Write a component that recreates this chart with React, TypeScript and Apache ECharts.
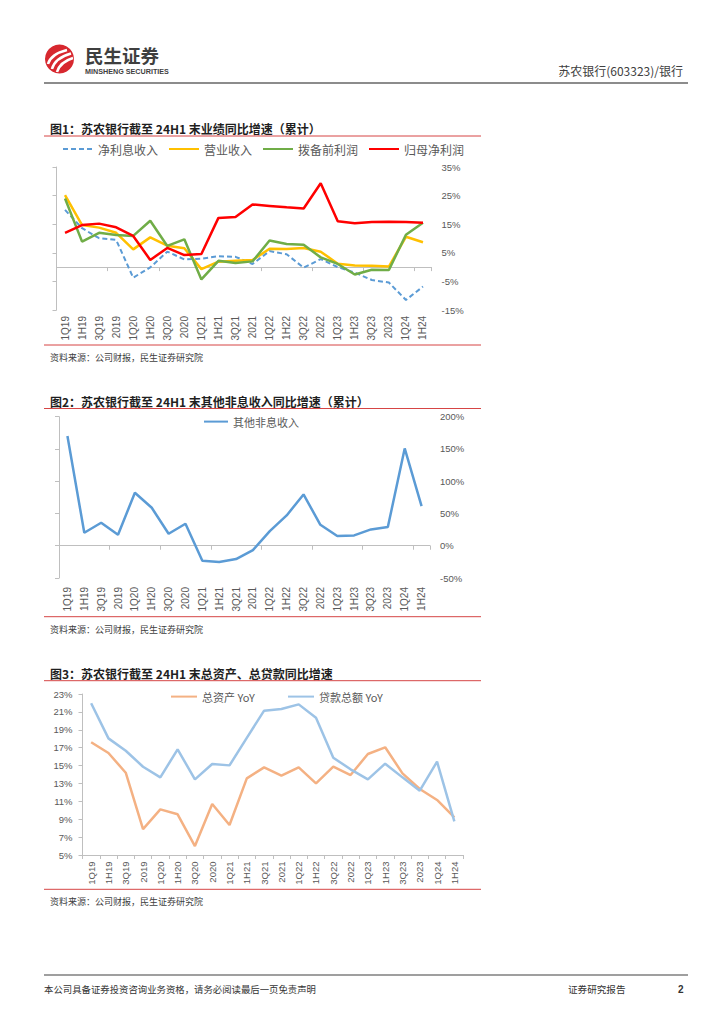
import React, { useEffect, useRef } from 'react';
import * as echarts from 'echarts';

// ---------- data ----------
const categories = ['1Q19', '1H19', '3Q19', '2019', '1Q20', '1H20', '3Q20', '2020', '1Q21', '1H21', '3Q21', '2021', '1Q22', '1H22', '3Q22', '2022', '1Q23', '1H23', '3Q23', '2023', '1Q24', '1H24'];

// Fig 1 (%, YoY cumulative)
const netInterestIncome = [20.0, 13.6, 10.1, 9.5, -3.7, -0.1, 5.4, 2.7, 2.9, 3.8, 3.6, 1.1, 5.6, 4.5, -0.2, 2.8, 0.0, -1.9, -4.5, -5.4, -11.5, -6.8];
const operatingRevenue = [25.2, 14.7, 13.8, 12.0, 6.2, 10.4, 7.5, 6.6, -0.7, 1.9, 2.2, 2.5, 6.4, 6.3, 6.7, 5.4, 1.2, 0.6, 0.5, 0.2, 10.6, 8.7];
const preProvisionProfit = [24.0, 8.9, 12.0, 11.2, 10.9, 16.2, 7.4, 9.7, -4.3, 2.2, 1.4, 2.0, 9.3, 8.1, 7.8, 3.4, 1.1, -2.6, -0.9, -1.0, 11.3, 15.5];
const netProfitAttr = [12.0, 14.7, 15.2, 13.9, 10.9, 2.5, 6.7, 4.2, 4.6, 17.2, 17.5, 21.9, 21.4, 20.9, 20.5, 29.3, 16.0, 15.3, 15.8, 15.9, 15.8, 15.5];

// Fig 2 (%)
const otherNonInterest = [170, 20.1, 35.6, 17.0, 82.1, 58.9, 18.6, 34.1, -23.2, -25.3, -20.7, -6.7, 22.7, 47.0, 79.5, 32.5, 15.0, 16.0, 25.3, 28.9, 150.8, 61.5];

// Fig 3 (%)
const totalAssetsYoY = [17.6, 16.4, 14.2, 7.9, 10.1, 9.55, 6.0, 10.7, 8.35, 13.57, 14.8, 13.87, 14.8, 13.0, 14.87, 13.94, 16.29, 17.04, 14.13, 12.38, 11.15, 9.21];
const totalLoansYoY = [21.96, 18.04, 16.66, 14.87, 13.68, 16.81, 13.46, 15.17, 15.02, 18.1, 21.14, 21.32, 21.84, 20.35, 15.88, 14.58, 13.46, 15.21, 13.68, 12.19, 15.43, 8.76];

// axis ranges (tick labels: min..max step interval, shown with %)
const fig1Axis = [-15, 35, 10];
const fig2Axis = [-50, 200, 50];
const fig3Axis = [5, 23, 2];

const seriesNames1 = ['净利息收入', '营业收入', '拨备前利润', '归母净利润'];
const seriesNames2 = ['其他非息收入'];
const seriesNames3 = ['总资产 YoY', '贷款总额 YoY'];

const titles = [
  '图1：苏农银行截至 24H1 末业绩同比增速（累计）',
  '图2：苏农银行截至 24H1 末其他非息收入同比增速（累计）',
  '图3：苏农银行截至 24H1 末总资产、总贷款同比增速',
];
const sourceText = '资料来源：公司财报，民生证券研究院';

// ---------- styles ----------
const CJK = '"Noto Sans CJK SC", "Noto Sans", sans-serif';
const NUM = '"Liberation Sans", Arial, sans-serif';
const AXIS_COLOR = '#bfbfbf';
const LABEL_COLOR = '#595959';
const RED_RULE = '#d64545';

// category axis carrying only the labels (always at the grid bottom)
function labelAxis(gridIndex: number, margin: number, fontSize: number, showLine: boolean) {
  return {
    type: 'category',
    gridIndex,
    position: 'bottom',
    data: categories,
    boundaryGap: true,
    axisLine: { show: showLine, onZero: false, lineStyle: { color: AXIS_COLOR, width: 1 } },
    axisTick: { show: showLine, length: 4, alignWithLabel: false, lineStyle: { color: AXIS_COLOR } },
    axisLabel: { interval: 0, rotate: 90, margin, fontSize, color: LABEL_COLOR, fontFamily: NUM },
    splitLine: { show: false },
  };
}

// category axis drawing only the zero line and its ticks
function zeroAxis(gridIndex: number) {
  return {
    type: 'category',
    gridIndex,
    position: 'top',
    data: categories,
    boundaryGap: true,
    axisLine: { show: true, onZero: true, lineStyle: { color: AXIS_COLOR, width: 1 } },
    axisTick: { show: true, inside: true, length: 4, alignWithLabel: false, lineStyle: { color: AXIS_COLOR } },
    axisLabel: { show: false },
    splitLine: { show: false },
  };
}

function valAxis(gridIndex: number, range: number[], position: string, showLabel: boolean, showLine: boolean) {
  return {
    type: 'value',
    gridIndex,
    position,
    min: range[0],
    max: range[1],
    interval: range[2],
    axisLine: { show: showLine, lineStyle: { color: AXIS_COLOR, width: 1 } },
    axisTick: { show: showLine, length: 4, lineStyle: { color: AXIS_COLOR } },
    axisLabel: {
      show: showLabel,
      margin: 10,
      fontSize: 9.5,
      color: LABEL_COLOR,
      fontFamily: NUM,
      formatter: '{value}%',
    },
    splitLine: { show: false },
  };
}

function lineSeries(name: string, data: number[], color: string, xi: number, yi: number, width = 2.5, dash?: any) {
  return {
    type: 'line',
    name,
    data,
    xAxisIndex: xi,
    yAxisIndex: yi,
    symbol: 'none',
    showSymbol: false,
    smooth: false,
    lineStyle: { color, width, type: dash || 'solid' },
    itemStyle: { color },
  };
}

function txt(text: string, x: number, y: number, size: number, opts: any = {}) {
  return {
    type: 'text',
    silent: true,
    style: {
      text,
      x,
      y,
      fontSize: size,
      fontFamily: opts.family || CJK,
      fontWeight: opts.weight || 'normal',
      fill: opts.fill || '#333',
      align: opts.align || 'left',
      verticalAlign: 'middle',
    },
  };
}

function hline(x1: number, x2: number, y: number, stroke: string, lineWidth: number) {
  return { type: 'line', silent: true, shape: { x1, y1: y, x2, y2: y }, style: { stroke, lineWidth } };
}

function legendBox(data: string[], left: number, top: number, itemWidth: number, fontSize: number, itemGap = 10) {
  return {
    data,
    left,
    top,
    orient: 'horizontal',
    itemWidth,
    itemHeight: 14,
    itemGap,
    selectedMode: false,
    padding: 0,
    itemStyle: { opacity: 0 },
    textStyle: { fontSize, color: LABEL_COLOR, fontFamily: CJK },
  };
}

export default function App() {
  const ref = useRef<HTMLDivElement>(null);

  useEffect(() => {
    if (!ref.current) return;
    const chart = echarts.init(ref.current, undefined, { renderer: 'svg' });

    const graphics: any[] = [
      // header logo
      { type: 'circle', silent: true, shape: { cx: 59.5, cy: 59, r: 14.5 }, style: { fill: '#d7282f' } },
      { type: 'bezierCurve', silent: true, shape: { x1: 48, y1: 64, cpx1: 51, cpy1: 54, x2: 67, y2: 50 }, style: { stroke: '#fff', lineWidth: 2.6, fill: 'none' } },
      { type: 'bezierCurve', silent: true, shape: { x1: 52, y1: 69, cpx1: 55, cpy1: 58, x2: 71, y2: 53.5 }, style: { stroke: '#fff', lineWidth: 2.6, fill: 'none' } },
      { type: 'bezierCurve', silent: true, shape: { x1: 57, y1: 72, cpx1: 60, cpy1: 62, x2: 73, y2: 58 }, style: { stroke: '#fff', lineWidth: 2.6, fill: 'none' } },
      txt('民生证券', 85, 55, 18.5, { weight: 'bold', fill: '#3f3f3f' }),
      txt('MINSHENG SECURITIES', 85, 71.2, 7.2, { weight: 'bold', fill: '#3f3f3f', family: NUM }),
      txt('苏农银行(603323)/银行', 683, 70, 12, { align: 'right', fill: '#404040' }),
      hline(44, 688, 83, '#666666', 1.5),

      // figure 1 frame
      txt(titles[0], 50, 128, 12, { weight: 'bold', fill: '#1f1f1f' }),
      hline(44, 481, 136, RED_RULE, 1),
      hline(44, 481, 345, RED_RULE, 1),
      txt(sourceText, 50, 357, 9, { fill: '#404040' }),

      // figure 2 frame
      txt(titles[1], 50, 401, 12, { weight: 'bold', fill: '#1f1f1f' }),
      hline(44, 481, 408.5, RED_RULE, 1),
      hline(44, 481, 616.7, RED_RULE, 1),
      txt(sourceText, 50, 629.5, 9, { fill: '#404040' }),

      // figure 3 frame
      txt(titles[2], 50, 673, 12, { weight: 'bold', fill: '#1f1f1f' }),
      hline(44, 481, 680.7, RED_RULE, 1),
      hline(44, 481, 889.3, RED_RULE, 1),
      txt(sourceText, 50, 901, 9, { fill: '#404040' }),

      // footer
      hline(44, 688, 975, '#7f7f7f', 1.5),
      txt('本公司具备证券投资咨询业务资格，请务必阅读最后一页免责声明', 44, 989, 9.4, { fill: '#333' }),
      txt('证券研究报告', 568, 989, 9.6, { fill: '#333' }),
      txt('2', 678, 989, 10, { weight: 'bold', fill: '#333', family: NUM }),
    ];

    const option: any = {
      animation: false,
      textStyle: { fontFamily: CJK },
      grid: [
        { left: 56.5, top: 167, width: 375, height: 143, containLabel: false, outerBoundsMode: 'none' },
        { left: 59, top: 416.7, width: 371, height: 161.3, containLabel: false, outerBoundsMode: 'none' },
        { left: 82.5, top: 694, width: 380.5, height: 161, containLabel: false, outerBoundsMode: 'none' },
      ],
      xAxis: [
        labelAxis(0, 6, 10, false),
        zeroAxis(0),
        labelAxis(1, 9, 10, false),
        zeroAxis(1),
        labelAxis(2, 6.5, 9.5, true),
      ],
      yAxis: [
        valAxis(0, fig1Axis, 'left', false, true),
        valAxis(0, fig1Axis, 'right', true, false),
        valAxis(1, fig2Axis, 'left', false, true),
        valAxis(1, fig2Axis, 'right', true, false),
        valAxis(2, fig3Axis, 'left', true, true),
      ],
      legend: [
        legendBox(seriesNames1, 62, 143, 30, 12, 10),
        legendBox(seriesNames2, 203, 416, 24, 11),
        legendBox([seriesNames3[0]], 170, 691, 26, 11),
        legendBox([seriesNames3[1]], 287, 691, 26, 11),
      ],
      series: [
        lineSeries(seriesNames1[0], netInterestIncome, '#5b9bd5', 0, 0, 2, [5, 3]),
        lineSeries(seriesNames1[1], operatingRevenue, '#ffc000', 0, 0),
        lineSeries(seriesNames1[2], preProvisionProfit, '#70ad47', 0, 0),
        lineSeries(seriesNames1[3], netProfitAttr, '#ff0000', 0, 0),
        lineSeries(seriesNames2[0], otherNonInterest, '#5b9bd5', 2, 2),
        lineSeries(seriesNames3[0], totalAssetsYoY, '#f4b183', 4, 4),
        lineSeries(seriesNames3[1], totalLoansYoY, '#9dc3e6', 4, 4),
      ],
      graphic: graphics,
    };

    chart.setOption(option);
    return () => chart.dispose();
  }, []);

  return (
    <div
      ref={ref}
      style={{ position: 'absolute', left: 0, top: 0, width: 724, height: 1024, background: '#fff' }}
    />
  );
}
